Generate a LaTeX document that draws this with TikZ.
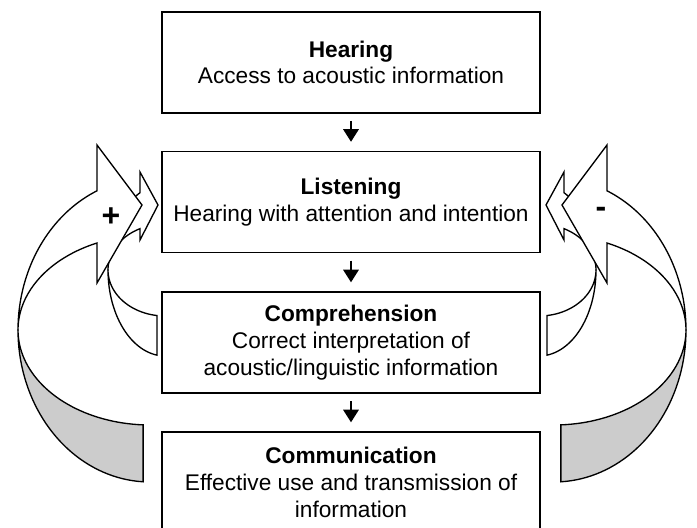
\documentclass[tikz,border=0pt]{standalone}
\usepackage{fontspec}
\setmainfont{Liberation Sans}
\usetikzlibrary{arrows.meta}
\tikzset{every picture/.style={line width=0.75pt}}
\tikzset{
  stagebox/.style={draw, line width=1pt, minimum width=283.5pt, minimum height=75.75pt,
    align=center, inner sep=0.75pt, font=\fontsize{17}{20}\selectfont},
  flowarrow/.style={line width=1.8pt, -{Triangle[width=11.5pt,length=9.5pt]},
    shorten <=5.5pt, shorten >=6.75pt},
  bandback/.style={draw, line width=1pt, fill=black!20},
  bandfront/.style={draw, line width=1pt, fill=white},
  signlabel/.style={inner sep=0pt, font=\fontsize{24}{24}\selectfont\bfseries},
}
% one side of the feedback loop (left), mirrored for the right side
\newcommand{\feedbackloop}{%
\draw[bandfront] plot[domain=180:98.07,samples=30,variable=\t] ({165+57*cos(\t)},{270+86*sin(\t)}) -- plot[domain=98.07:180,samples=30,variable=\t] ({165+57*cos(\t)},{270+46*sin(\t)}) -- cycle;
\draw[bandfront] plot[domain=180:244,samples=30,variable=\t] ({165+57*cos(\t)},{270+86*sin(\t)}) -- (140,172) -- (158,205) -- (140,240) -- plot[domain=244:180,samples=30,variable=\t] ({165+57*cos(\t)},{270+46*sin(\t)}) -- cycle;
\draw[bandback] plot[domain=180:93,samples=40,variable=\t] ({150+132*cos(\t)},{330+152*sin(\t)}) -- plot[domain=93:180,samples=40,variable=\t] ({150+132*cos(\t)},{330+95*sin(\t)}) -- cycle;
\draw[bandfront] plot[domain=180:246.3,samples=40,variable=\t] ({150+132*cos(\t)},{330+152*sin(\t)}) -- (97,145) -- (142,205) -- (97,283) -- plot[domain=246.3:180,samples=40,variable=\t] ({150+132*cos(\t)},{330+95*sin(\t)}) -- cycle;
}

\begin{document}
\begin{tikzpicture}[x=0.75pt,y=0.75pt,yscale=-1,xscale=1]
\useasboundingbox (0,0) rectangle (697,528);
\clip (0,0) rectangle (697,528);
\node[stagebox] (hearing) at (351,62.5) {\textbf{Hearing}\\Access to acoustic information};
\node[stagebox] (listening) at (351,202) {\textbf{Listening}\\Hearing with attention and intention};
\node[stagebox] (comprehension) at (351,342.5) {\textbf{Comprehension}\\Correct interpretation of\\acoustic/linguistic information};
\node[stagebox] (communication) at (351,482.5) {\textbf{Communication}\\Effective use and transmission of\\information};
\draw[flowarrow] (hearing) -- (listening);
\draw[flowarrow] (listening) -- (comprehension);
\draw[flowarrow] (comprehension) -- (communication);
\feedbackloop
\begin{scope}[xshift=528pt, xscale=-1]
\feedbackloop
\end{scope}
\node[signlabel] (plus) at (111,217) {+};
\node[signlabel] (minus) at (601,212) {-};
\end{tikzpicture}
\end{document}
